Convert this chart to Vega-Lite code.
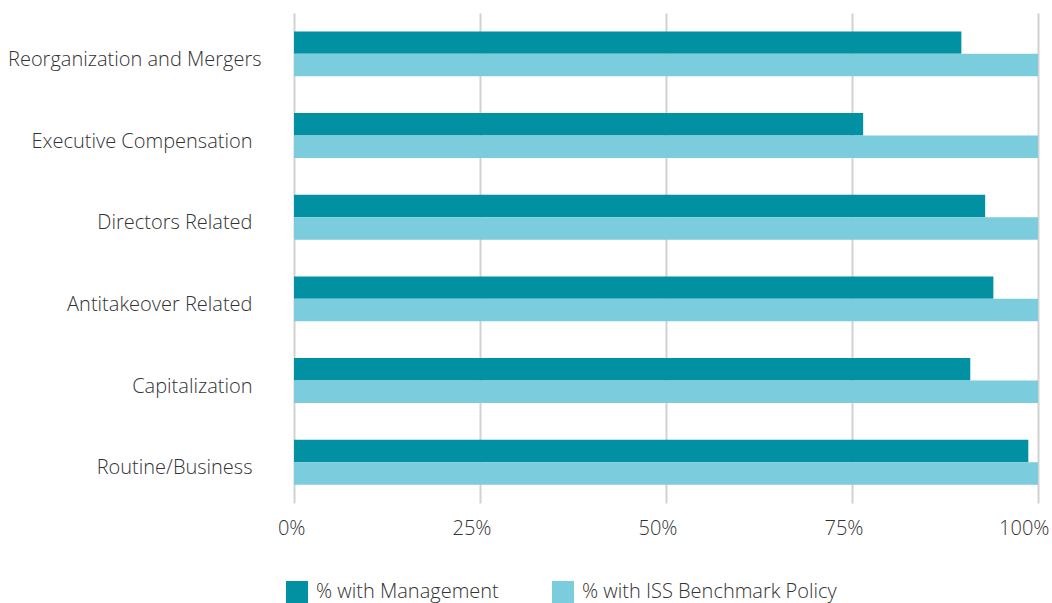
{
  "$schema": "https://vega.github.io/schema/vega-lite/v6.json",
  "width": 744,
  "height": 490,
  "autosize": {"type": "none"},
  "padding": {"left": 294, "top": 13, "right": 14, "bottom": 100},
  "background": "white",
  "config": {
    "view": {"stroke": null},
    "font": "Open Sans",
    "axis": {"labelFont": "Open Sans", "labelFontWeight": 300, "labelColor": "#333333", "labelFontSize": 20},
    "legend": {"labelFont": "Open Sans", "labelFontWeight": 300, "labelColor": "#333333", "labelFontSize": 20, "labelLimit": 400}
  },
  "data": {
    "values": [
      {"category": "Reorganization and Mergers", "series": "% with Management", "value": 0.897},
      {"category": "Reorganization and Mergers", "series": "% with ISS Benchmark Policy", "value": 1.0},
      {"category": "Executive Compensation", "series": "% with Management", "value": 0.765},
      {"category": "Executive Compensation", "series": "% with ISS Benchmark Policy", "value": 1.0},
      {"category": "Directors Related", "series": "% with Management", "value": 0.929},
      {"category": "Directors Related", "series": "% with ISS Benchmark Policy", "value": 1.0},
      {"category": "Antitakeover Related", "series": "% with Management", "value": 0.94},
      {"category": "Antitakeover Related", "series": "% with ISS Benchmark Policy", "value": 1.0},
      {"category": "Capitalization", "series": "% with Management", "value": 0.909},
      {"category": "Capitalization", "series": "% with ISS Benchmark Policy", "value": 1.0},
      {"category": "Routine/Business", "series": "% with Management", "value": 0.987},
      {"category": "Routine/Business", "series": "% with ISS Benchmark Policy", "value": 1.0}
    ]
  },
  "mark": {"type": "bar"},
  "encoding": {
    "y": {
      "field": "category",
      "type": "nominal",
      "sort": null,
      "title": null,
      "scale": {"paddingInner": 0.45, "paddingOuter": 0.225},
      "axis": {
        "domain": false,
        "ticks": false,
        "labelPadding": {"condition": {"test": "datum.value === 'Reorganization and Mergers'", "value": 33}, "value": 42},
        "labelOffset": 6,
        "labelLimit": 300
      }
    },
    "yOffset": {
      "field": "series",
      "type": "nominal",
      "sort": ["% with Management", "% with ISS Benchmark Policy"]
    },
    "x": {
      "field": "value",
      "type": "quantitative",
      "title": null,
      "scale": {"domain": [0, 1], "nice": false},
      "axis": {
        "format": ".0%",
        "values": [0, 0.25, 0.5, 0.75, 1],
        "domain": false,
        "ticks": false,
        "grid": true,
        "gridColor": "#d2d2d2",
        "gridWidth": 2,
        "labelAlign": "right",
        "labelOffset": 11,
        "labelPadding": 15,
        "labelFlush": false
      }
    },
    "color": {
      "field": "series",
      "type": "nominal",
      "sort": ["% with Management", "% with ISS Benchmark Policy"],
      "scale": {"domain": ["% with Management", "% with ISS Benchmark Policy"], "range": ["#0291A3", "#7BCCDD"]},
      "legend": {
        "title": null,
        "orient": "none",
        "direction": "horizontal",
        "legendX": -8,
        "legendY": 568,
        "symbolType": "square",
        "symbolSize": 484,
        "symbolStrokeWidth": 0,
        "symbolOpacity": 1,
        "labelOffset": 8,
        "columnPadding": 53
      }
    }
  }
}
